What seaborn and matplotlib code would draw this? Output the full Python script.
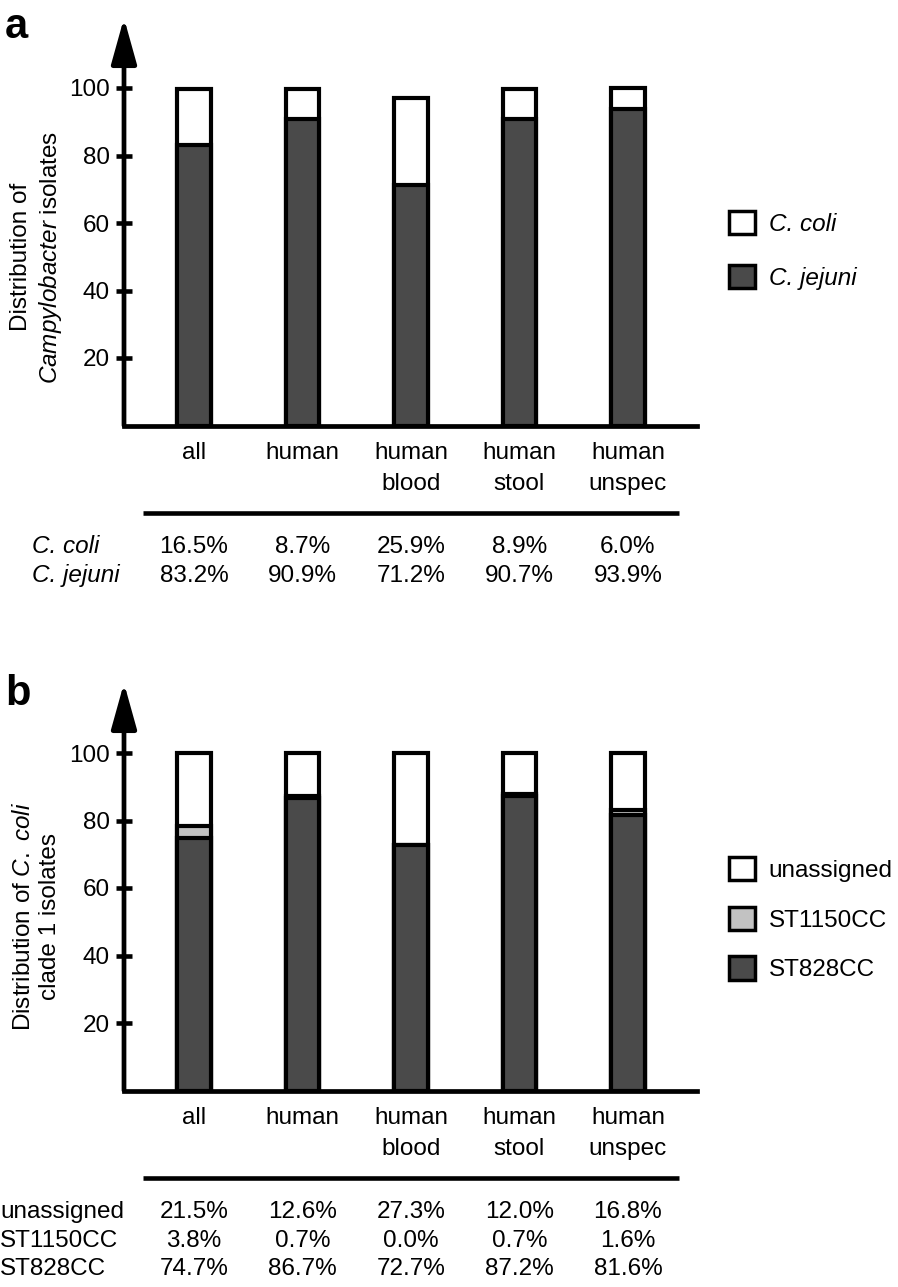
"""Stacked species / clonal-complex distribution bars with summary tables."""

import matplotlib

matplotlib.use("Agg")
import matplotlib.pyplot as plt
import matplotlib.transforms as mtransforms
import pandas as pd
import seaborn as sns
from matplotlib.patches import Patch

W, H = 898, 1287

categories = ["all", "human", "human\nblood", "human\nstool", "human\nunspec"]

# panel a: species share (%)
coli_pct = [16.5, 8.7, 25.9, 8.9, 6.0]
jejuni_pct = [83.2, 90.9, 71.2, 90.7, 93.9]

# panel b: C. coli clade 1 clonal complexes (%)
unassigned_pct = [21.5, 12.6, 27.3, 12.0, 16.8]
st1150_pct = [3.8, 0.7, 0.0, 0.7, 1.6]
st828_pct = [74.7, 86.7, 72.7, 87.2, 81.6]

yticks = [20, 40, 60, 80, 100]

WHITE = "white"
LIGHT = "#c2c2c2"
DARK = "#4a4a4a"

sns.set_style("white")
plt.rcParams["font.family"] = ["Liberation Sans", "DejaVu Sans"]
plt.rcParams["mathtext.fontset"] = "custom"
plt.rcParams["mathtext.rm"] = "Liberation Sans"
plt.rcParams["mathtext.it"] = "Liberation Sans:italic"
for key in ["text.color", "axes.labelcolor", "xtick.color", "ytick.color", "axes.edgecolor"]:
    plt.rcParams[key] = "black"

FS = 17.5
PX_PER_UNIT = 3.375  # vertical pixels per percent


def fx(px):
    return px / W


def fy(py):
    return 1 - py / H


def draw_panel(fig, base, df, layers, legend, rows, row_style, row_x, ylabel, ylabel_y, letter, letter_y,
               legend_top, legend_gap):
    ax = fig.add_axes([fx(124), fy(base), fx(697) - fx(124), 407.5 / H])

    # back to front: cumulative totals, each layer painted over the previous one
    for column, color in layers:
        sns.barplot(data=df, x="category", y=column, color=color, edgecolor="black",
                    linewidth=3, width=0.31, saturation=1, ax=ax)

    ax.set_xlim(-0.645, 4.636)
    ax.set_ylim(0, 407.5 / PX_PER_UNIT)
    ax.set_xlabel("")
    ax.set_ylabel("")
    sns.despine(ax=ax, left=True)
    ax.spines["bottom"].set_linewidth(3.4)

    ax.set_yticks(yticks)
    ax.tick_params(axis="y", left=True, direction="inout", length=12, width=3.3, pad=4,
                   labelsize=FS)
    ax.tick_params(axis="x", length=0, pad=12, labelsize=FS)
    for lbl in ax.get_xticklabels():
        lbl.set_linespacing(1.5)

    ax.annotate("", xy=(0, 1), xytext=(0, 0), xycoords="axes fraction",
                arrowprops=dict(arrowstyle="-|>,head_length=28,head_width=7.8", mutation_scale=1,
                                lw=3.4, color="black", shrinkA=0, shrinkB=0))

    # summary table under the bars
    trans = mtransforms.blended_transform_factory(ax.transData, fig.transFigure)
    ax.plot([-0.47, 4.47], [fy(base + 87.5)] * 2, transform=trans, color="black", lw=3.3,
            clip_on=False, solid_capstyle="butt")
    for j, (name, values) in enumerate(rows):
        y = fy(base + 127.5 + 28.7 * j)
        fig.text(fx(row_x), y, name, ha="left", va="baseline", fontsize=FS, style=row_style)
        for i, v in enumerate(values):
            ax.text(i, y, f"{v:.1f}%", transform=trans, ha="center", va="baseline", fontsize=FS)

    handles = [Patch(facecolor=c, edgecolor="black", linewidth=2.5, label=l) for l, c in legend]
    ax.legend(handles=handles, loc="upper left", bbox_to_anchor=(fx(728.5), fy(legend_top)),
              bbox_transform=fig.transFigure, frameon=False, borderpad=0, borderaxespad=0,
              handlelength=1.1, handleheight=1.1, handletextpad=0.55, labelspacing=legend_gap,
              prop={"size": FS, "style": row_style})

    fig.text(fx(37), fy(ylabel_y), ylabel, rotation=90, ha="center", va="center",
             multialignment="center", fontsize=FS, linespacing=1.25)
    fig.text(fx(5), fy(letter_y), letter, fontsize=30, fontweight="bold", va="baseline")
    return ax


fig = plt.figure(figsize=(W / 100, H / 100), dpi=100)

df_a = pd.DataFrame({"category": categories, "coli": coli_pct, "jejuni": jejuni_pct})
df_a["total"] = df_a["jejuni"] + df_a["coli"]
draw_panel(
    fig, 425.5, df_a,
    layers=[("total", WHITE), ("jejuni", DARK)],
    legend=[("C. coli", WHITE), ("C. jejuni", DARK)],
    rows=[("C. coli", coli_pct), ("C. jejuni", jejuni_pct)],
    row_style="italic", row_x=32,
    ylabel="Distribution of\n$\\it{Campylobacter}$ isolates", ylabel_y=257,
    letter="a", letter_y=38, legend_top=211, legend_gap=1.2,
)

df_b = pd.DataFrame({"category": categories, "unassigned": unassigned_pct,
                     "st1150": st1150_pct, "st828": st828_pct})
df_b["st828_1150"] = df_b["st828"] + df_b["st1150"]
df_b["total"] = df_b["st828_1150"] + df_b["unassigned"]
draw_panel(
    fig, 1090.5, df_b,
    layers=[("total", WHITE), ("st828_1150", LIGHT), ("st828", DARK)],
    legend=[("unassigned", WHITE), ("ST1150CC", LIGHT), ("ST828CC", DARK)],
    rows=[("unassigned", unassigned_pct), ("ST1150CC", st1150_pct), ("ST828CC", st828_pct)],
    row_style="normal", row_x=0,
    ylabel="Distribution of $\\it{C.\\ coli}$\nclade 1 isolates", ylabel_y=917,
    letter="b", letter_y=705, legend_top=857, legend_gap=1.02,
)

fig.savefig("out.png", dpi=100)
